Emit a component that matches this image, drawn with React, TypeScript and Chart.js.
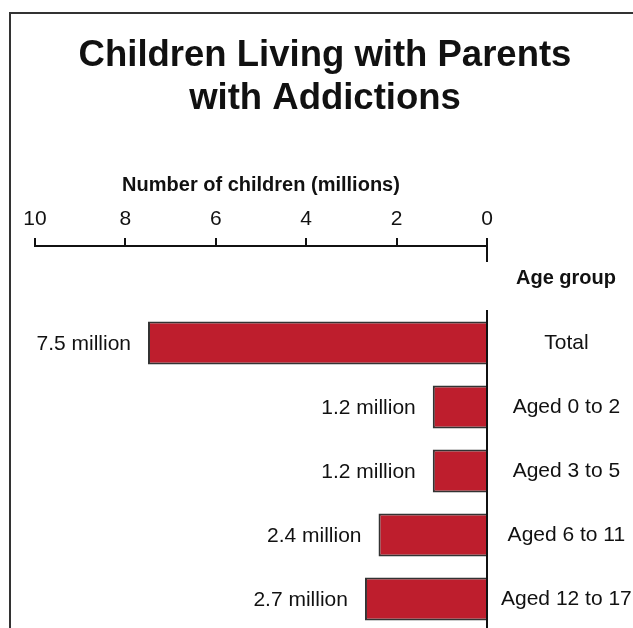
import React, { useEffect, useRef } from "react";
import { Chart, registerables } from "chart.js";

Chart.register(...registerables);

const TITLE = ["Children Living with Parents", "with Addictions"];
const X_TITLE = "Number of children (millions)";
const Y_HEADER = "Age group";
const CATEGORIES = ["Total", "Aged 0 to 2", "Aged 3 to 5", "Aged 6 to 11", "Aged 12 to 17"];
const VALUES = [7.5, 1.2, 1.2, 2.4, 2.7];
const VALUE_LABELS = ["7.5 million", "1.2 million", "1.2 million", "2.4 million", "2.7 million"];
const X_MIN = 0;
const X_MAX = 10;
const X_STEP = 2;

const SANS = '"Liberation Sans", Arial, sans-serif';
const INK = "#111111";
const BAR = "#be1e2d";

const W = 633;
const H = 640;

const decorPlugin = {
  id: "decor",
  afterDraw(chart: any) {
    const { ctx, chartArea } = chart;
    const xs = chart.scales.x;
    const ys = chart.scales.y;
    ctx.save();
    // frame
    ctx.strokeStyle = "#333333";
    ctx.lineWidth = 2;
    ctx.beginPath();
    ctx.moveTo(W, 13);
    ctx.lineTo(10, 13);
    ctx.lineTo(10, H);
    ctx.stroke();
    // longer zero tick
    const x0 = Math.round(xs.getPixelForValue(0));
    ctx.strokeStyle = INK;
    ctx.lineWidth = 2;
    ctx.beginPath();
    ctx.moveTo(x0, xs.bottom - 8);
    ctx.lineTo(x0, xs.bottom + 16);
    ctx.stroke();
    // header
    ctx.fillStyle = INK;
    ctx.font = `bold 20px ${SANS}`;
    ctx.textAlign = "center";
    ctx.textBaseline = "middle";
    ctx.fillText(Y_HEADER, chartArea.right + 79, chartArea.top - 33);
    // value labels
    ctx.font = `21px ${SANS}`;
    ctx.textAlign = "right";
    VALUES.forEach((v, i) => {
      const px = xs.getPixelForValue(v);
      const py = ys.getPixelForValue(i);
      ctx.fillText(VALUE_LABELS[i], px - 17, py + 1);
    });
    ctx.restore();
  },
};

export default function App() {
  const ref = useRef<HTMLCanvasElement | null>(null);
  useEffect(() => {
    if (!ref.current) return;
    const chart = new Chart(ref.current, {
      type: "bar",
      data: {
        labels: CATEGORIES,
        datasets: [
          {
            data: VALUES,
            backgroundColor: BAR,
            borderColor: "#333333",
            borderWidth: 2,
            barPercentage: 0.67,
            categoryPercentage: 1,
          },
        ],
      },
      options: {
        indexAxis: "y",
        animation: false,
        responsive: false,
        devicePixelRatio: 1,
        layout: { padding: { left: 17, right: 0, top: 0, bottom: 9 } },
        plugins: {
          legend: { display: false },
          tooltip: { enabled: false },
          title: {
            display: true,
            text: TITLE,
            color: INK,
            font: { family: SANS, size: 36.5, weight: "bold", lineHeight: "43px" },
            padding: { top: 34.5, bottom: 39.5 },
          },
        },
        scales: {
          x: {
            type: "linear",
            position: "top",
            weight: 10,
            reverse: true,
            min: X_MIN,
            max: X_MAX,
            ticks: {
              stepSize: X_STEP,
              color: INK,
              padding: 6,
              font: { family: SANS, size: 21 },
            },
            grid: {
              display: true,
              drawOnChartArea: false,
              drawTicks: true,
              tickLength: 8,
              color: INK,
              lineWidth: 2,
            },
            border: { display: true, color: INK, width: 2 },
            title: {
              display: true,
              text: X_TITLE,
              color: INK,
              font: { family: SANS, size: 20, weight: "bold" },
              padding: { top: 13, bottom: 0 },
            },
            afterFit: (s: any) => {
              s.height = 86;
              s.paddingLeft = 35;
            },
          } as any,
          xs: {
            type: "linear",
            position: "top",
            weight: 0,
            display: true,
            ticks: { display: false },
            grid: { display: false, drawTicks: false },
            border: { display: false },
            afterFit: (s: any) => {
              s.height = 65;
            },
          } as any,
          y: {
            type: "category",
            position: "right",
            ticks: {
              color: INK,
              crossAlign: "center",
              padding: 14,
              font: { family: SANS, size: 21 },
            },
            grid: { display: false, drawTicks: false, tickLength: 0 },
            border: { display: true, color: INK, width: 2 },
            afterFit: (s: any) => {
              s.width = 146;
              s.paddingTop = 0;
              s.paddingBottom = 0;
            },
          } as any,
        },
      },
      plugins: [decorPlugin],
    });
    return () => chart.destroy();
  }, []);
  return (
    <div style={{ position: "fixed", left: 0, top: 0, width: W, height: 628, overflow: "hidden", background: "#fff" }}>
      <canvas ref={ref} width={W} height={H} style={{ display: "block", width: W, height: H }} />
    </div>
  );
}
